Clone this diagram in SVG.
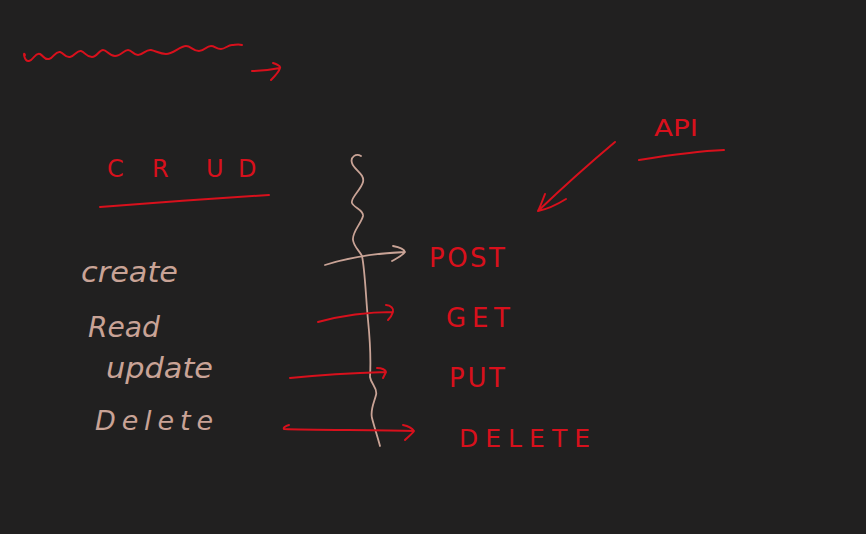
<svg xmlns="http://www.w3.org/2000/svg" width="866" height="534" viewBox="0 0 866 534">
<style>
.r{fill:none;stroke:#d8101c;stroke-width:2;stroke-linecap:round;stroke-linejoin:round}
.b{fill:none;stroke:#c9a396;stroke-width:1.8;stroke-linecap:round;stroke-linejoin:round}
.tr{fill:#d8101c;font-family:"DejaVu Sans","Liberation Sans",sans-serif;font-weight:normal}
.tb{fill:#c9a396;font-family:"DejaVu Sans","Liberation Sans",sans-serif;font-style:italic}
</style>
<rect width="866" height="534" fill="#212020"/>
<g id="squiggle">
<path class="r" d="M25,55 C23,50 24,62 29,61 C34,60 35,52 40,54 C44,56 44,60 49,59 C54,58 55,51 60,52 C64,53 65,58 70,57 C75,56 77,50 81,51 C85,52 86,57 92,57 C97,57 99,50 103,50 C107,50 109,56 115,56 C121,56 124,50 128,50 C132,50 133,55 138,55 C143,55 146,49 151,50 C156,51 160,54 166,54 C173,54 180,46 186,46 C191,46 193,51 199,51 C205,51 206,46 211,46 C215,46 216,49 221,49 C225,49 228,45 232,45 C235,45 238,44 242,45"/>
<path class="r" d="M252,71 C260,71 270,70 280,68 M273,63 C276,64 281,66 280,68 C279,72 275,76 271,80"/>
</g>
<g id="crud">
<text class="tr" font-size="24" y="177"><tspan x="107">C</tspan><tspan x="152">R</tspan><tspan x="206">U</tspan><tspan x="238">D</tspan></text>
<path class="r" d="M100,207 C150,203 220,198 269,195"/>
</g>
<g id="api">
<text class="tr" font-size="23" x="654" y="136" textLength="44" lengthAdjust="spacingAndGlyphs">API</text>
<path class="r" d="M639,160 C670,155 700,151 724,150"/>
</g>
<g id="vline">
<path class="b" d="M361,156 C356,153 350,157 352,163 C354,170 365,174 363,182 C361,190 350,198 352,203 C354,208 364,210 363,216 C361,224 352,232 353,240 C354,247 359,250 362,256 C365,270 366,300 368,320 C370,340 371,360 370,377 C371,384 378,388 376,395 C374,403 370,410 372,418 C374,426 377,435 380,446"/>
</g>
<g id="create"><text class="tb" font-size="28" x="81" y="282" textLength="97" lengthAdjust="spacingAndGlyphs">create</text></g>
<g id="read"><text class="tb" font-size="28" x="88" y="337" textLength="72" lengthAdjust="spacingAndGlyphs">Read</text></g>
<g id="update"><text class="tb" font-size="28" x="106" y="378" textLength="107" lengthAdjust="spacingAndGlyphs">update</text></g>
<g id="delete"><text class="tb" font-size="27" x="95" y="430" textLength="118" lengthAdjust="spacing">Delete</text></g>
<g id="post"><text class="tr" font-size="26" x="429" y="267" textLength="76" lengthAdjust="spacing">POST</text></g>
<g id="get"><text class="tr" font-size="26" x="446" y="327" textLength="64" lengthAdjust="spacing">GET</text></g>
<g id="put"><text class="tr" font-size="26" x="449" y="387" textLength="56" lengthAdjust="spacing">PUT</text></g>
<g id="deletem"><text class="tr" font-size="25" x="459" y="447" textLength="131" lengthAdjust="spacing">DELETE</text></g>
<g id="connectors">
<path class="r" d="M615,142 C590,163 560,190 538,211 M545,194 C542,202 540,207 538,211 C548,209 558,204 566,199"/>
<path class="b" d="M325,265 C350,257 380,253 405,252 M393,246 C398,247 404,249 405,252 C402,256 397,258 392,261"/>
<path class="r" d="M318,322 C340,316 365,312 393,312 M386,305 C391,305 394,309 393,312 C392,315 390,318 388,320"/>
<path class="r" d="M290,378 C320,375 355,373 386,372 M377,368 C382,368 386,370 386,372 C385,374 384,376 383,378"/>
<path class="r" d="M289,425 C285,426 283,428 284,429 C310,430 380,430 414,431 M403,425 C408,426 412,428 414,431 C412,434 408,437 405,440"/>
</g>
</svg>
